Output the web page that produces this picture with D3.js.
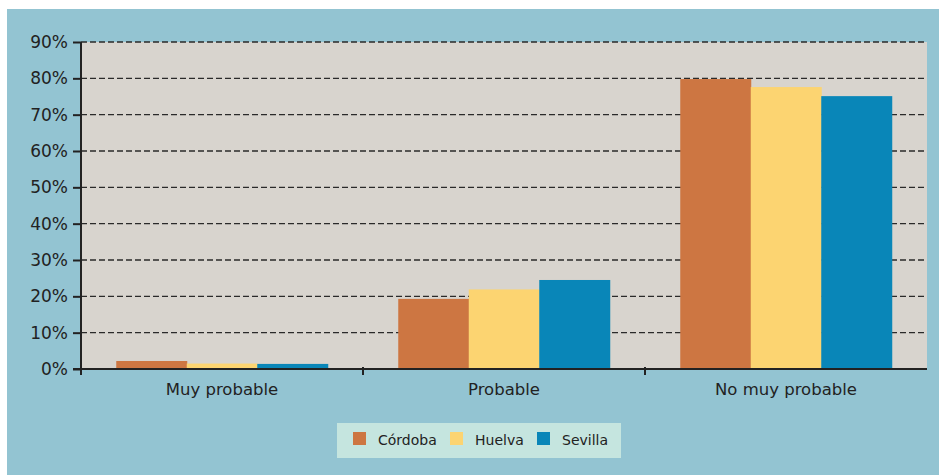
<!DOCTYPE html>
<html>
<head>
<meta charset="utf-8">
<script src="https://cdn.jsdelivr.net/npm/d3@7/dist/d3.min.js"></script>
<style>
  body { margin: 0; background: #fff; }
  svg { display: block; font-family: "DejaVu Sans", Verdana, sans-serif; }
</style>
</head>
<body>
<svg id="chart"></svg>
<script>
// datos
var categorias = ["Muy probable", "Probable", "No muy probable"];
var series = ["Córdoba", "Huelva", "Sevilla"];
var cordoba = [2.2, 19.3, 79.8];
var huelva = [1.5, 21.9, 77.6];
var sevilla = [1.4, 24.5, 75.1];
var yTicks = [0, 10, 20, 30, 40, 50, 60, 70, 80, 90];

var colores = ["#cd7642", "#fcd471", "#0986b8"];
var valores = [cordoba, huelva, sevilla];

var W = 939, H = 475;
var margin = {left: 81, top: 42, right: 12, bottom: 106};
var w = W - margin.left - margin.right;
var h = H - margin.top - margin.bottom;

var svg = d3.select("#chart").attr("width", W).attr("height", H);

// fondo
svg.append("rect").attr("x", 7).attr("y", 9).attr("width", W - 7).attr("height", H - 9)
    .attr("fill", "#93c4d2");

var g = svg.append("g").attr("transform", "translate(" + margin.left + "," + margin.top + ")");

var x0 = d3.scaleBand().domain(categorias).range([0, w]).paddingInner(0.25).paddingOuter(0.125);
var x1 = d3.scaleBand().domain(series).range([0, x0.bandwidth()]);
var xEdge = d3.scaleLinear().domain([0, categorias.length]).range([0, w]);
var y = d3.scaleLinear().domain([0, 90]).range([h, 0]);

g.append("rect").attr("width", w).attr("height", h).attr("fill", "#d8d4ce");

// rejilla
g.selectAll(".grid")
    .data(yTicks.filter(function(d) { return d > 0; }))
    .enter()
    .append("line")
    .attr("x1", 0).attr("x2", w)
    .attr("y1", function(d) { return y(d); })
    .attr("y2", function(d) { return y(d); })
    .attr("stroke", "#2a2a2a")
    .attr("stroke-width", 1.3)
    .attr("stroke-dasharray", "6,3");

// barras
series.forEach(function(s, i) {
    g.selectAll(".bar" + i)
        .data(valores[i])
        .enter()
        .append("rect")
        .attr("x", function(d, j) { return x0(categorias[j]) + x1(s); })
        .attr("y", function(d) { return y(d); })
        .attr("width", x1.bandwidth() + 0.5)
        .attr("height", function(d) { return h - y(d); })
        .attr("fill", colores[i]);
});

// eje y
var yAxis = d3.axisLeft(y).tickValues(yTicks).tickSize(8).tickPadding(5)
    .tickFormat(function(d) { return d + "%"; });
var ya = g.append("g").call(yAxis);
ya.select(".domain").remove();
ya.selectAll(".tick line").attr("stroke", "#222").attr("stroke-width", 2);
ya.selectAll("text").attr("font-size", "17px").attr("fill", "#222")
    .attr("font-family", "DejaVu Sans, sans-serif");
g.append("line").attr("x1", 0).attr("x2", 0).attr("y1", 0).attr("y2", h + 6)
    .attr("stroke", "#222").attr("stroke-width", 2);

// eje x
g.append("line").attr("x1", -8).attr("x2", w).attr("y1", h).attr("y2", h)
    .attr("stroke", "#222").attr("stroke-width", 2);
g.selectAll(".xtick")
    .data([1, 2])
    .enter()
    .append("line")
    .attr("x1", function(d) { return xEdge(d); })
    .attr("x2", function(d) { return xEdge(d); })
    .attr("y1", h - 2).attr("y2", h + 6)
    .attr("stroke", "#222").attr("stroke-width", 2);
g.selectAll(".xlabel")
    .data(categorias)
    .enter()
    .append("text")
    .attr("x", function(d) { return x0(d) + x0.bandwidth() / 2; })
    .attr("y", h + 26)
    .attr("text-anchor", "middle")
    .attr("font-size", "16.5px")
    .attr("fill", "#222")
    .text(function(d) { return d; });

// leyenda
var leg = svg.append("g");
leg.append("rect").attr("x", 337).attr("y", 423).attr("width", 284).attr("height", 35)
    .attr("fill", "#c5e5df");
var legX = [353, 450, 537];
series.forEach(function(s, i) {
    leg.append("rect").attr("x", legX[i]).attr("y", 432).attr("width", 13).attr("height", 13)
        .attr("fill", colores[i]);
    leg.append("text").attr("x", legX[i] + 25).attr("y", 445)
        .attr("font-size", "14px").attr("fill", "#222").text(s);
});
</script>
</body>
</html>
